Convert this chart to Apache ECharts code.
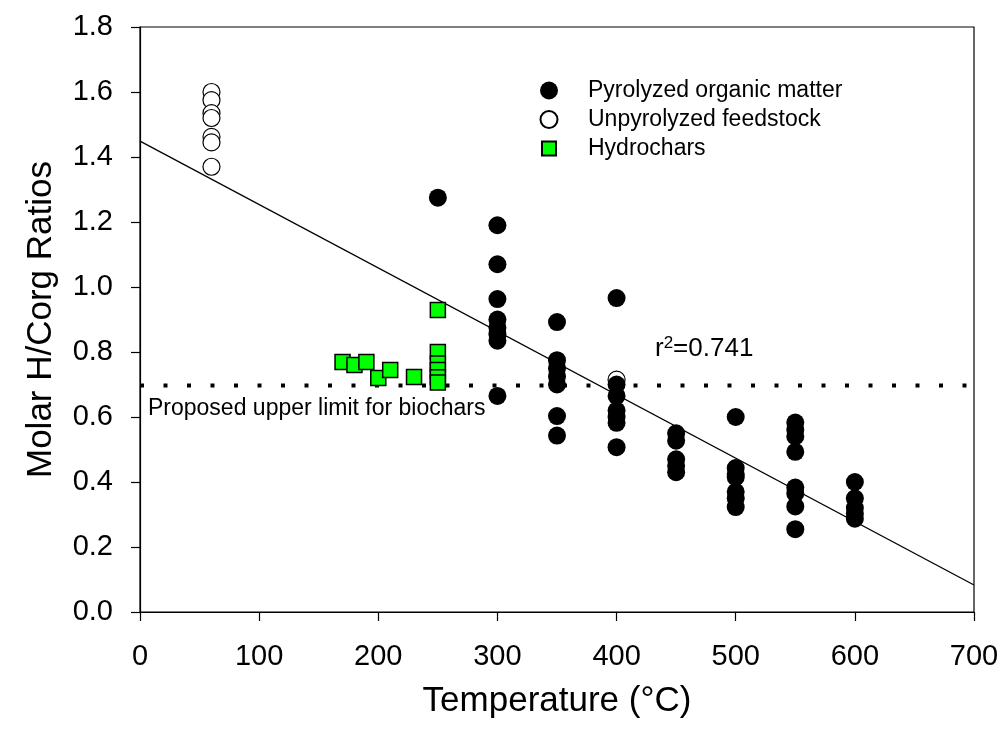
<!DOCTYPE html>
<html><head><meta charset="utf-8">
<script src="https://cdn.jsdelivr.net/npm/echarts@6/dist/echarts.min.js"></script>
<style>html,body{margin:0;padding:0;background:#fff}#c{width:1002px;height:732px}</style>
</head><body><div id="c"></div>
<script>
// ---- data ----
const pyroTemps  = [250, 300, 350, 400, 450, 500, 550, 600];
const pyroValues = [
  [1.275],
  [1.19, 1.07, 0.963, 0.90, 0.875, 0.855, 0.835, 0.665],
  [0.892, 0.775, 0.75, 0.725, 0.70, 0.603, 0.543],
  [0.966, 0.70, 0.665, 0.62, 0.60, 0.582, 0.507],
  [0.55, 0.527, 0.47, 0.45, 0.43],
  [0.60, 0.443, 0.425, 0.415, 0.37, 0.35, 0.323],
  [0.583, 0.56, 0.54, 0.493, 0.383, 0.365, 0.325, 0.255],
  [0.40, 0.35, 0.32, 0.303, 0.287]
];
const feedTemps  = [60, 400];
const feedValues = [
  [1.60, 1.575, 1.535, 1.52, 1.462, 1.445, 1.37],
  [0.715]
];
const hydroTemps  = [170, 180, 190, 200, 210, 230, 250, 250, 250, 250, 250, 250];
const hydroValues = [0.769, 0.76, 0.769, 0.72, 0.745, 0.723, 0.929, 0.80, 0.765, 0.745, 0.722, 0.706];
const fitX = [0, 700];
const fitY = [1.449, 0.083];
const limitX = [0, 700];
const limitY = [0.697, 0.697];
const r2Text = '0.741';
const limitText = 'Proposed upper limit for biochars';
const seriesNames = ['Pyrolyzed organic matter', 'Unpyrolyzed feedstock', 'Hydrochars'];

// ---- build ----
function expand(temps, vals) {
  const out = [];
  temps.forEach((t, i) => vals[i].forEach(v => out.push([t, v])));
  return out;
}
const pyroData = expand(pyroTemps, pyroValues);
const feedData = expand(feedTemps, feedValues);
const hydroData = hydroTemps.map((t, i) => [t, hydroValues[i]]);
const fitData = fitX.map((x, i) => [x, fitY[i]]);
const limitData = limitX.map((x, i) => [x, limitY[i]]);

const FONT = "'Liberation Sans', Arial, sans-serif";
const chart = echarts.init(document.getElementById('c'), null, {renderer: 'canvas'});
chart.setOption({
  animation: false,
  backgroundColor: '#fff',
  textStyle: {fontFamily: FONT, color: '#000'},
  grid: {left: 140, right: 28, top: 27, bottom: 120, show: true, borderColor: '#000', borderWidth: 1.2, backgroundColor: 'transparent'},
  xAxis: {
    type: 'value', min: 0, max: 700, interval: 100,
    name: 'Temperature (°C)', nameLocation: 'middle', nameGap: 72,
    nameTextStyle: {fontSize: 35, fontFamily: FONT, color: '#000'},
    axisLine: {show: true, onZero: false, lineStyle: {color: '#000', width: 1.2}},
    axisTick: {show: true, length: 9, lineStyle: {color: '#000', width: 1.2}},
    axisLabel: {fontSize: 29, fontFamily: FONT, color: '#000', margin: 30},
    splitLine: {show: false}
  },
  yAxis: {
    type: 'value', min: 0, max: 1.8, interval: 0.2,
    name: 'Molar H/Corg Ratios', nameLocation: 'middle', nameGap: 81,
    nameTextStyle: {fontSize: 35, fontFamily: FONT, color: '#000'},
    axisLine: {show: true, onZero: false, lineStyle: {color: '#000', width: 1.2}},
    axisTick: {show: true, length: 9, lineStyle: {color: '#000', width: 1.2}},
    axisLabel: {fontSize: 29, fontFamily: FONT, color: '#000', margin: 27, formatter: v => v.toFixed(1)},
    splitLine: {show: false}
  },
  legend: {
    orient: 'vertical', left: 534, top: 74,
    itemWidth: 18, itemHeight: 18, itemGap: 6,
    textStyle: {fontSize: 23, fontFamily: FONT, color: '#000', padding: [0, 0, 0, 25]},
    data: [
      {name: seriesNames[0], icon: 'circle'},
      {name: seriesNames[1], icon: 'path://M0 0M18 18M9 0.5A8.5 8.5 0 1 1 8.99 0.5Z'},
      {name: seriesNames[2], icon: 'path://M0 0M18 18M2 2H16V16H2Z'}
    ]
  },
  graphic: [
    {type: 'text', left: 148, top: 397, style: {text: limitText, font: "23px 'Liberation Sans', Arial, sans-serif", fill: '#000'}},
    {type: 'text', left: 655, top: 335, style: {
      text: 'r{s|2}=' + r2Text,
      font: "26px 'Liberation Sans', Arial, sans-serif", fill: '#000',
      rich: {s: {fontSize: 17, fontFamily: FONT, verticalAlign: 'top', padding: [0, 0, 10, 0], fill: '#000'}}
    }}
  ],
  series: [
    {type: 'line', data: fitData, symbol: 'none', silent: true, lineStyle: {color: '#000', width: 1.3}, z: 1},
    {type: 'line', data: limitData, symbol: 'none', silent: true, lineStyle: {color: '#000', width: 4, type: [4, 19.5], cap: 'butt'}, z: 1},
    {name: seriesNames[2], type: 'scatter', data: hydroData, symbol: 'rect', symbolSize: 15,
      itemStyle: {color: '#00ff00', borderColor: '#000', borderWidth: 1.5, opacity: 1}, z: 2},
    {name: seriesNames[1], type: 'scatter', data: feedData, symbol: 'circle', symbolSize: 17,
      itemStyle: {color: '#fff', borderColor: '#000', borderWidth: 1.2, opacity: 1}, z: 3},
    {name: seriesNames[0], type: 'scatter', data: pyroData, symbol: 'circle', symbolSize: 18,
      itemStyle: {color: '#000', opacity: 1}, z: 4}
  ]
});
</script></body></html>
